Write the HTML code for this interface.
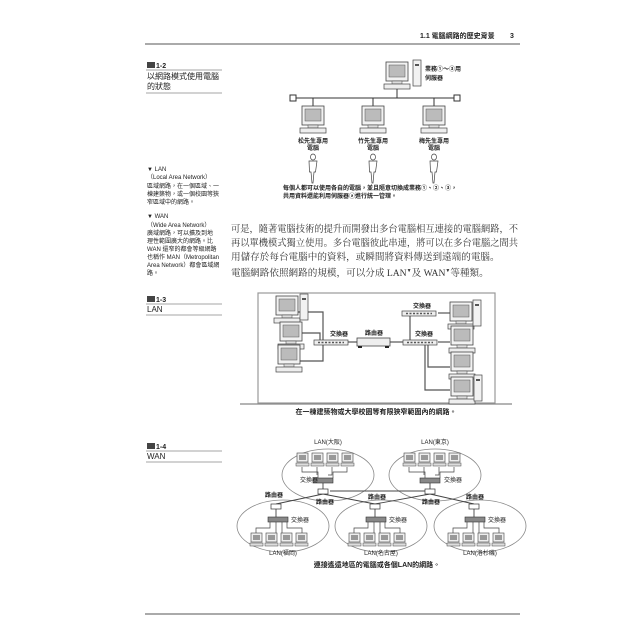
<!DOCTYPE html>
<html><head><meta charset="utf-8"><style>
html,body{margin:0;padding:0;background:#fff;}
svg{display:block;}
text{font-family:"Liberation Sans","Noto Sans CJK TC",sans-serif;fill:#222;}
.s{font-size:6px;}
.m{font-size:7px;}
.b{font-size:9.6px;font-family:"Liberation Serif","Noto Serif CJK SC",serif;fill:#333;}
</style></head><body>
<svg width="640" height="640" viewBox="0 0 640 640" xmlns="http://www.w3.org/2000/svg">
<defs>
<g id="pc">
<rect x="0" y="0" width="22" height="19" fill="#f2f2f2" stroke="#444" stroke-width="0.8"/>
<rect x="3" y="3" width="16" height="12" fill="#bbb" stroke="#555" stroke-width="0.5"/>
<rect x="6" y="19" width="10" height="3" fill="#ddd" stroke="#444" stroke-width="0.5"/>
<rect x="-2" y="22" width="26" height="5" fill="#eee" stroke="#444" stroke-width="0.7"/>
</g>
<g id="tower"><rect x="0" y="0" width="8" height="26" fill="#f2f2f2" stroke="#444" stroke-width="0.7"/><rect x="2" y="4" width="4" height="2" fill="#555"/></g>
<g id="sw"><rect x="0" y="0" width="34" height="5" fill="#eee" stroke="#444" stroke-width="0.7"/><path d="M4 2.5h26" stroke="#555" stroke-width="1.5" stroke-dasharray="2 1.5"/></g>
<g id="per"><ellipse cx="0" cy="3" rx="2.5" ry="3" fill="#fff" stroke="#444" stroke-width="0.7"/><path d="M-4 7h8l-1.5 11h-1.5l-1 11h-1l-1-11h-1.5z" fill="#fff" stroke="#444" stroke-width="0.7"/></g>
<g id="spc"><rect x="0" y="0" width="11" height="9" fill="#eee" stroke="#444" stroke-width="0.6"/><rect x="2" y="2" width="7" height="5" fill="#999"/><rect x="-1" y="10" width="13" height="3" fill="#ddd" stroke="#444" stroke-width="0.5"/></g>
<g id="ssw"><rect x="0" y="0" width="20" height="5" fill="#888" stroke="#333" stroke-width="0.6"/></g>
<g id="rt"><rect x="0" y="0" width="10" height="5" fill="#fff" stroke="#333" stroke-width="0.7"/></g>
</defs>

<text x="420" y="38" class="m" font-weight="bold">1.1  電腦網路的歷史背景</text>
<text x="510" y="38" class="m" font-weight="bold">3</text>
<line x1="145" y1="44" x2="520" y2="44" stroke="#555" stroke-width="1"/>

<rect x="147" y="62" width="8" height="6" fill="#444"/>
<text x="156" y="68" class="m" font-weight="bold">1-2</text>
<line x1="146" y1="70" x2="222" y2="70" stroke="#888" stroke-width="0.7"/>
<text x="147" y="79" font-size="8">以網路模式使用電腦</text>
<text x="147" y="89" font-size="8">的狀態</text>
<line x1="146" y1="93" x2="222" y2="93" stroke="#888" stroke-width="0.7"/>

<use href="#pc" x="386" y="62"/>
<use href="#tower" x="413" y="60"/>
<line x1="397" y1="89" x2="397" y2="98" stroke="#333"/>
<text x="425" y="71" class="s" font-weight="bold">業務①～③用</text>
<text x="425" y="80" class="s" font-weight="bold">伺服器</text>
<line x1="295" y1="98" x2="454" y2="98" stroke="#333" stroke-width="1"/>
<rect x="290" y="95" width="6" height="6" fill="#fff" stroke="#333"/>
<rect x="454" y="95" width="6" height="6" fill="#fff" stroke="#333"/>
<g stroke="#333"><line x1="313" y1="98" x2="313" y2="106"/><line x1="373" y1="98" x2="373" y2="106"/><line x1="434" y1="98" x2="434" y2="106"/></g>
<use href="#pc" x="302" y="106"/><use href="#pc" x="362" y="106"/><use href="#pc" x="423" y="106"/>
<text x="313" y="143" class="s" text-anchor="middle" font-weight="bold">松先生專用</text>
<text x="313" y="150" class="s" text-anchor="middle" font-weight="bold">電腦</text>
<text x="373" y="143" class="s" text-anchor="middle" font-weight="bold">竹先生專用</text>
<text x="373" y="150" class="s" text-anchor="middle" font-weight="bold">電腦</text>
<text x="434" y="143" class="s" text-anchor="middle" font-weight="bold">梅先生專用</text>
<text x="434" y="150" class="s" text-anchor="middle" font-weight="bold">電腦</text>
<use href="#per" x="313" y="154"/><use href="#per" x="373" y="154"/><use href="#per" x="434" y="154"/>
<text x="283" y="190" class="s" font-weight="bold">每個人都可以使用各自的電腦，並且隨意切換成業務①、②、③，</text>
<text x="283" y="198" class="s" font-weight="bold">共用資料還能利用伺服器ⓐ進行統一管理。</text>

<text x="147" y="171" class="s">▼ LAN</text>
<text x="147" y="179" class="s">（Local Area Network）</text>
<text x="147" y="188" class="s">區域網路，在一個區域、一</text>
<text x="147" y="196" class="s">棟建築物，或一個校園等狹</text>
<text x="147" y="204" class="s">窄區域中的網路。</text>
<text x="147" y="218" class="s">▼ WAN</text>
<text x="147" y="227" class="s">（Wide Area Network）</text>
<text x="147" y="235" class="s">廣域網路，可以擴及到地</text>
<text x="147" y="243" class="s">理性範圍廣大的網路。比</text>
<text x="147" y="251" class="s">WAN 還窄的都會等級網路</text>
<text x="147" y="259" class="s">也稱作 MAN（Metropolitan</text>
<text x="147" y="267" class="s">Area Network）都會區域網</text>
<text x="147" y="275" class="s">路。</text>

<text x="231" y="232" class="b" textLength="287" lengthAdjust="spacingAndGlyphs">可是，隨著電腦技術的提升而開發出多台電腦相互連接的電腦網路，不</text>
<text x="231" y="246" class="b" textLength="287" lengthAdjust="spacingAndGlyphs">再以單機模式獨立使用。多台電腦彼此串連，將可以在多台電腦之間共</text>
<text x="231" y="260" class="b">用儲存於每台電腦中的資料，或瞬間將資料傳送到遠端的電腦。</text>
<text x="231" y="276" class="b">電腦網路依照網路的規模，可以分成 LAN<tspan font-size="5" dy="-4">▼</tspan><tspan dy="4">及 WAN</tspan><tspan font-size="5" dy="-4">▼</tspan><tspan dy="4">等種類。</tspan></text>

<rect x="147" y="296" width="8" height="6" fill="#444"/>
<text x="156" y="302" class="m" font-weight="bold">1-3</text>
<line x1="146" y1="304" x2="222" y2="304" stroke="#888" stroke-width="0.7"/>
<text x="147" y="312" font-size="8">LAN</text>
<line x1="146" y1="315" x2="222" y2="315" stroke="#888" stroke-width="0.7"/>

<rect x="258" y="293" width="237" height="110" fill="#fff" stroke="#999" stroke-width="1.2"/>
<line x1="240" y1="404" x2="512" y2="404" stroke="#888" stroke-width="1.2"/>
<g stroke="#555" stroke-width="1.2" fill="none">
<path d="M298 312H323V340"/><path d="M295 333H320V340"/><path d="M298 361H323V345"/>
<path d="M348 342H357"/><path d="M390 342H403"/>
<path d="M410 315V340"/><path d="M438 313H450"/>
<path d="M438 342H450"/><path d="M428 345V367H450"/><path d="M425 345V390H450"/>
</g>
<use href="#pc" x="276" y="296"/><use href="#tower" x="300" y="294"/>
<use href="#pc" x="280" y="322"/>
<use href="#pc" x="278" y="345"/>
<use href="#sw" x="314" y="340"/>
<rect x="357" y="338" width="33" height="8" fill="#eee" stroke="#444" stroke-width="0.8"/>
<rect x="358" y="346" width="4" height="2" fill="#222"/><rect x="385" y="346" width="4" height="2" fill="#222"/>
<use href="#sw" x="403" y="340"/>
<use href="#sw" x="402" y="311"/>
<text x="330" y="336" class="s" font-weight="bold">交換器</text>
<text x="365" y="335" class="s" font-weight="bold">路由器</text>
<text x="415" y="336" class="s" font-weight="bold">交換器</text>
<text x="413" y="308" class="s" font-weight="bold">交換器</text>
<use href="#pc" x="450" y="302"/><use href="#tower" x="473" y="300"/>
<use href="#pc" x="451" y="326"/>
<use href="#pc" x="451" y="352"/>
<use href="#pc" x="451" y="377"/><use href="#tower" x="474" y="375"/>
<text x="376" y="414" class="m" text-anchor="middle" font-weight="bold">在一棟建築物或大學校園等有限狹窄範圍內的網路。</text>

<rect x="147" y="443" width="8" height="6" fill="#444"/>
<text x="156" y="449" class="m" font-weight="bold">1-4</text>
<line x1="146" y1="451" x2="222" y2="451" stroke="#888" stroke-width="0.7"/>
<text x="147" y="459" font-size="8">WAN</text>
<line x1="146" y1="462" x2="222" y2="462" stroke="#888" stroke-width="0.7"/>

<g fill="none" stroke="#888" stroke-width="0.8">
<ellipse cx="328" cy="475" rx="46" ry="26"/>
<ellipse cx="435" cy="475" rx="46" ry="26"/>
<ellipse cx="283" cy="526" rx="46" ry="26"/>
<ellipse cx="381" cy="526" rx="46" ry="26"/>
<ellipse cx="480" cy="526" rx="46" ry="26"/>
</g>
<g stroke="#444" stroke-width="0.9" fill="none">
<path d="M323 494L276 504"/><path d="M323 494L375 504"/><path d="M330 491H425"/>
<path d="M430 494L375 504"/><path d="M430 494L474 504"/>
<path d="M323 483V491"/><path d="M430 483V491"/>
<path d="M276 509V518"/><path d="M375 509V518"/><path d="M474 509V518"/>
</g>
<text x="328" y="444" class="s" text-anchor="middle">LAN(大阪)</text>
<text x="435" y="444" class="s" text-anchor="middle">LAN(東京)</text>
<g id="topLan">
<use href="#spc" x="297" y="453"/><use href="#spc" x="312" y="453"/><use href="#spc" x="327" y="453"/><use href="#spc" x="342" y="453"/>
<path d="M302 467V472H318V478M317 467V475M332 467V475H328M347 467V472H333V478" stroke="#444" stroke-width="0.7" fill="none"/>
<use href="#ssw" x="313" y="478"/>
</g>
<use href="#topLan" x="107" y="0"/>
<text x="300" y="482" class="s">交換器</text>
<text x="444" y="482" class="s">交換器</text>
<use href="#rt" x="318" y="489"/><use href="#rt" x="425" y="489"/>
<use href="#rt" x="271" y="504"/><use href="#rt" x="370" y="504"/><use href="#rt" x="469" y="504"/>
<text x="265" y="497" class="s" font-weight="bold">路由器</text>
<text x="316" y="504" class="s" font-weight="bold">路由器</text>
<text x="368" y="499" class="s" font-weight="bold">路由器</text>
<text x="422" y="504" class="s" font-weight="bold">路由器</text>
<text x="466" y="499" class="s" font-weight="bold">路由器</text>
<g id="botLan">
<use href="#ssw" x="268" y="517"/>
<text x="291" y="522" class="s">交換器</text>
<path d="M270 522V528H256V533M276 522V533M282 522V533M287 522V528H302V533" stroke="#444" stroke-width="0.7" fill="none"/>
<use href="#spc" x="251" y="533"/><use href="#spc" x="266" y="533"/><use href="#spc" x="281" y="533"/><use href="#spc" x="296" y="533"/>
</g>
<use href="#botLan" x="98" y="0"/>
<use href="#botLan" x="197" y="0"/>
<text x="283" y="555" class="s" text-anchor="middle">LAN(福岡)</text>
<text x="381" y="555" class="s" text-anchor="middle">LAN(名古屋)</text>
<text x="480" y="555" class="s" text-anchor="middle">LAN(洛杉磯)</text>
<text x="377" y="567" class="m" text-anchor="middle" font-weight="bold">連接遙遠地區的電腦或各個LAN的網路。</text>

<line x1="145" y1="614" x2="520" y2="614" stroke="#777" stroke-width="1.2"/>
</svg>
</body></html>
